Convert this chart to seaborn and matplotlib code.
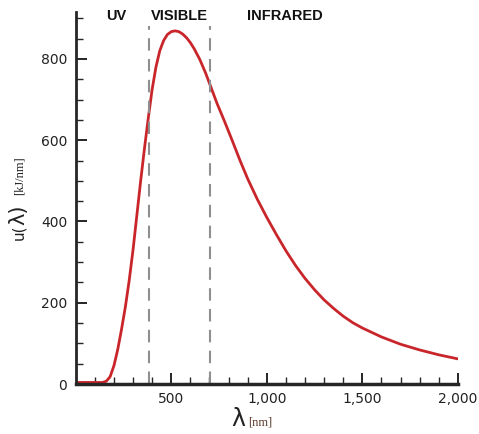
import matplotlib
matplotlib.use("Agg")
import matplotlib.pyplot as plt
import matplotlib.ticker as mticker
import matplotlib.transforms as mtransforms
import seaborn as sns
import pandas as pd

# spectral energy density
wavelength_nm = [0, 100, 140, 160, 180, 200, 220, 240, 260, 280, 300, 320,
                 340, 360, 380, 400, 420, 440, 460, 480, 500, 520, 540, 560,
                 580, 600, 620, 650, 680, 700, 740, 780, 820, 860, 900, 950,
                 1000, 1050, 1100, 1150, 1200, 1250, 1300, 1350, 1400, 1450,
                 1500, 1600, 1700, 1800, 1900, 2000]
energy_density = [4, 4, 4, 7, 18, 45, 85, 135, 190, 255, 330, 415,
                  500, 580, 655, 725, 780, 820, 845, 860, 867, 869, 867, 861,
                  852, 840, 825, 798, 765, 740, 690, 645, 598, 550, 505, 455,
                  410, 368, 328, 292, 260, 232, 207, 186, 167, 151,
                  138, 116, 98, 84, 72, 62]

visible_bounds = [385, 705]
band_labels = ["UV", "VISIBLE", "INFRARED"]
band_label_x = [214, 545, 1094]

df = pd.DataFrame({"wavelength": wavelength_nm, "u": energy_density})

sns.set_style("ticks")
plt.rcParams["font.family"] = ["DejaVu Sans"]

fig = plt.figure(figsize=(4.79, 4.34), dpi=100)
ax = fig.add_axes([0.158, 0.115, 0.798, 0.857])

sns.lineplot(data=df, x="wavelength", y="u", ax=ax, color="#c9262b",
             linewidth=2.0)

for xb in visible_bounds:
    ax.axvline(xb, ymin=0, ymax=880 / 915, color="#8f8f8f", linewidth=1.5,
               dashes=(6, 4))

ax.set_xlim(0, 2000)
ax.set_ylim(0, 915)
ax.set_xticks([500, 1000, 1500, 2000])
ax.set_yticks([0, 200, 400, 600, 800])
ax.xaxis.set_minor_locator(mticker.MultipleLocator(100))
ax.yaxis.set_minor_locator(mticker.MultipleLocator(50))
ax.xaxis.set_major_formatter(mticker.StrMethodFormatter("{x:,.0f}"))
ax.tick_params(axis="both", which="major", direction="in", length=8, width=1.2,
               labelsize=10, colors="black", labelcolor="#222222", pad=6)
ax.tick_params(axis="both", which="minor", direction="in", length=5, width=1.0)

sns.despine(ax=ax)
ax.spines["left"].set_linewidth(2)
ax.spines["bottom"].set_linewidth(2.5)
ax.set_xlabel("")
ax.set_ylabel("")

# band labels along the top
trans = mtransforms.blended_transform_factory(ax.transData, ax.transAxes)
for lab, xl in zip(band_labels, band_label_x):
    ax.text(xl, 0.99, lab, transform=trans, ha="center", va="center",
            fontsize=10.5, fontweight="bold", family="Liberation Sans",
            color="#111111")

# axis labels built from pieces, like the original
fig.text(0.497, 0.035, "λ", fontsize=17, ha="center", va="center",
         color="#222222")
fig.text(0.518, 0.027, "[nm]", fontsize=9, ha="left", va="center",
         family="Liberation Serif", color="#5a3a2a")

fig.text(0.040, 0.465, "u(", fontsize=11, rotation=90, ha="center",
         va="center", color="#222222")
fig.text(0.038, 0.505, "λ)", fontsize=15, rotation=90, ha="center",
         va="center", color="#222222")
fig.text(0.040, 0.595, "[kJ/nm]", fontsize=9, rotation=90, ha="center",
         va="center", family="Liberation Serif", color="#222222")

fig.savefig("out.png", dpi=100, facecolor="white")
